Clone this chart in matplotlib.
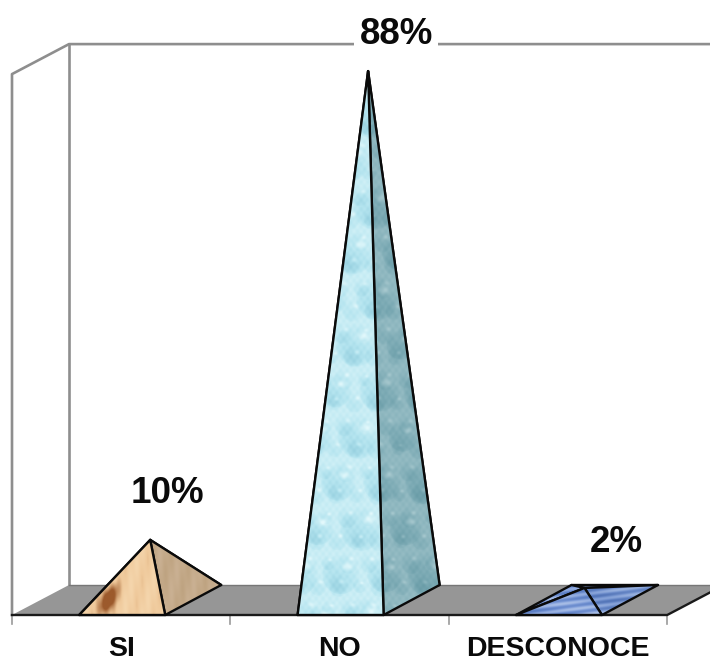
import numpy as np
import matplotlib
matplotlib.use('Agg')
import matplotlib.pyplot as plt
from matplotlib.colors import LinearSegmentedColormap
from matplotlib.patches import Polygon

categories = ['SI', 'NO', 'DESCONOCE']
values = [10, 88, 2]
value_labels = ['10%', '88%', '2%']
axis_max = 90

plt.rcParams['font.family'] = ['Liberation Sans', 'DejaVu Sans']

# layout of the fake 3D box, in pixels
front_y = 615
back_y = 585
left_x = 12
depth_x = 57
step = 218.4
px_per_unit = 6.01

fig = plt.figure(figsize=(7.10, 6.61), dpi=100)
ax = fig.add_axes([0, 0, 1, 1])
ax.axis('off')


def drops(X, Y, cell_x, cell_y, seed):
    # one layer of droplets on a staggered grid, dark at the bottom with a glint on top
    row = np.floor(Y / cell_y)
    shifted = X + row * cell_x * 0.47 + seed
    col = np.floor(shifted / cell_x)
    gx = shifted % cell_x - cell_x / 2
    gy = Y % cell_y - cell_y / 2
    size = 0.62 + 0.36 * np.abs(np.sin(row * 2.3 + col * 1.9 + seed))
    rx = cell_x / 2 * size
    ry = cell_y / 2 * size
    d = (gx / rx) ** 2 + (gy / ry) ** 2
    shade = np.where(d < 1, (1 - d) ** 0.5 * (0.75 + 0.5 * gy / ry - 0.25 * gx / rx), 0)
    glint = np.exp(-(((gx - 0.35 * rx) / (0.28 * rx)) ** 2 + ((gy + 0.4 * ry) / (0.2 * ry)) ** 2))
    return -0.32 * shade + 0.5 * glint * (d < 1)


def texture(kind, shade, x0, x1, y0, y1):
    xs = np.arange(x0, x1 + 1)
    ys = np.arange(y0, y1 + 1)
    X, Y = np.meshgrid(xs, ys)
    if kind == 'water':
        z = 0.72 + drops(X, Y, 44, 46, 5) + 0.55 * drops(X, Y, 21, 23, 13)
        z += 0.06 * np.sin(X * 0.9) * np.sin(Y * 0.7)
        if shade == 0:
            cols = ['#7fc0d3', '#b4e4ef', '#e4f9fc']
        else:
            cols = ['#558d99', '#7dabb5', '#a8c9cf']
    elif kind == 'wood':
        z = 0.62 + 0.1 * np.sin((X + 0.25 * Y) * 0.3) + 0.05 * np.sin((X - 0.1 * Y) * 0.8)
        if shade == 0:
            cx, cy = 108, 600
            z -= 1.1 * np.exp(-(((X - cx + (Y - cy) * 0.35) / 7) ** 2 + ((Y - cy) / 14) ** 2))
            cols = ['#9c5a2c', '#efc99b', '#f9e0bb']
        else:
            cols = ['#a88c6c', '#c0a583', '#d2baa0']
    else:
        z = 0.5 + 0.3 * np.sin(X * 0.12 + Y * 0.9) + 0.1 * np.sin(X * 0.05 - Y * 0.2)
        if shade == 0:
            cols = ['#4f74bd', '#7d9bd8', '#b5c8ea']
        else:
            cols = ['#4a6cb0', '#7392cf', '#a6bce4']
    cmap = LinearSegmentedColormap.from_list(kind + str(shade), cols)
    return z, cmap, (x0, x1, y1, y0)


# back wall and left wall
wall_color = '#8e8e8e'
top_y = back_y - axis_max * px_per_unit
ax.plot([left_x, left_x, left_x + depth_x, 710], [front_y, top_y + 30, top_y, top_y], color=wall_color, lw=1.9, zorder=1)
ax.plot([left_x + depth_x, left_x + depth_x], [top_y, back_y], color=wall_color, lw=1.9, zorder=1)

# floor
right_x = left_x + step * 3
floor = [(left_x, front_y), (right_x, front_y), (right_x + depth_x, back_y), (left_x + depth_x, back_y)]
ax.add_patch(Polygon(floor, closed=True, facecolor='#969696', edgecolor='none', zorder=2))
ax.plot([left_x + depth_x, 710], [back_y, back_y], color='#777777', lw=1.0, zorder=2)
ax.plot([left_x, right_x, right_x + depth_x], [front_y, front_y, back_y], color='#1a1a1a', lw=1.7, zorder=3)

# ticks under the floor
for i in range(len(categories) + 1):
    tx = left_x + step * i
    ax.plot([tx, tx], [front_y, front_y + 9], color='#9a9a9a', lw=1.2, zorder=1)

# pyramids
kinds = ['wood', 'water', 'blue']
apex_shift = [0.5, 0, -2]
base_y = (front_y + back_y) / 2
for i, val in enumerate(values):
    cx = left_x + step * (i + 0.5) + 28.5
    apex = (cx + apex_shift[i], base_y - val * px_per_unit)
    fl = (cx - 70.5, front_y)
    fr = (cx + 15.5, front_y)
    br = (cx + 71.5, back_y)
    bl = (cx - 15, back_y)
    faces = [(bl, br, 1), (fl, bl, 0), (fr, br, 1), (fl, fr, 0)]
    for j, (a, b, shade) in enumerate(faces):
        pts = [a, b, apex]
        px = [p[0] for p in pts]
        py = [p[1] for p in pts]
        z, cmap, extent = texture(kinds[i], shade, int(min(px)) - 1, int(max(px)) + 2, int(min(py)) - 1, int(max(py)) + 2)
        im = ax.imshow(z, cmap=cmap, extent=extent, vmin=0, vmax=1, aspect='auto', zorder=4 + j * 0.1, interpolation='bilinear')
        poly = Polygon(pts, closed=True, facecolor='none', edgecolor='#0a0a0a', lw=1.7, joinstyle='round', zorder=4.05 + j * 0.1)
        ax.add_patch(poly)
        im.set_clip_path(poly)

# labels
label_shift = [18, 28, 30]
label_gap = [46, 37, 45]
for i, val in enumerate(values):
    cx = left_x + step * (i + 0.5) + 28.5
    ax.text(cx + label_shift[i], base_y - val * px_per_unit - label_gap[i], value_labels[i],
            fontsize=26.5, fontweight='bold', ha='center', va='center', color='#0a0a0a', zorder=6,
            bbox=dict(facecolor='white', edgecolor='none', pad=4))
    ax.text(left_x + step * (i + 0.5), 649, categories[i], fontsize=20.5, fontweight='bold',
            ha='center', va='center', color='#0a0a0a', zorder=6)

ax.set_xlim(0, 710)
ax.set_ylim(661, 0)
fig.savefig('out.png', dpi=100, facecolor='white')
